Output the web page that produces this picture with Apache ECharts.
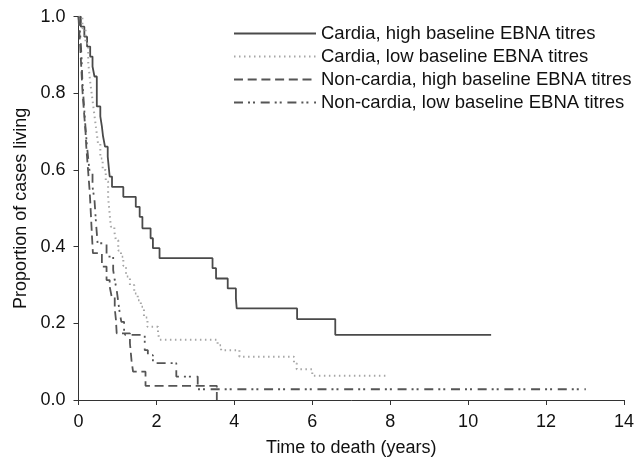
<!DOCTYPE html>
<html>
<head>
<meta charset="utf-8">
<script src="https://cdn.jsdelivr.net/npm/echarts@6/dist/echarts.min.js"></script>
<style>
html,body{margin:0;padding:0;background:#fff;}
#chart{width:637px;height:462px;}
</style>
</head>
<body>
<div id="chart"></div>
<script>
// Kaplan–Meier style survival curves: [time (years), proportion living]
var cardiaHigh = [
  [0,1],[0.06,0.974],[0.15,0.948],[0.22,0.922],[0.30,0.896],[0.36,0.870],[0.41,0.844],
  [0.47,0.766],[0.56,0.740],[0.60,0.714],[0.63,0.688],[0.68,0.661],[0.75,0.635],
  [0.80,0.583],[0.86,0.556],[1.15,0.530],[1.47,0.504],[1.57,0.478],[1.64,0.448],
  [1.85,0.422],[1.91,0.396],[2.08,0.370],[3.44,0.344],[3.53,0.317],[3.83,0.291],
  [4.04,0.265],[4.06,0.239],[5.61,0.211],[6.59,0.170],[10.59,0.170]
];
var cardiaLow = [
  [0,1],[0.10,0.97],[0.18,0.93],[0.25,0.88],[0.30,0.83],[0.35,0.79],[0.40,0.75],
  [0.45,0.71],[0.50,0.67],[0.56,0.63],[0.62,0.60],[0.70,0.57],[0.76,0.53],[0.79,0.496],
  [0.83,0.452],[0.92,0.439],[0.96,0.417],[1.02,0.39],[1.09,0.374],[1.15,0.35],
  [1.22,0.322],[1.32,0.30],[1.43,0.278],[1.52,0.26],[1.60,0.243],[1.68,0.215],
  [1.77,0.191],[2.04,0.174],[2.08,0.157],[3.57,0.143],[3.66,0.130],[4.13,0.113],
  [5.53,0.096],[5.60,0.080],[6.00,0.063],[7.91,0.063]
];
var nonCardiaHigh = [
  [0,1],[0.02,0.96],[0.04,0.93],[0.06,0.89],[0.08,0.85],[0.10,0.81],[0.12,0.78],
  [0.15,0.74],[0.18,0.70],[0.20,0.66],[0.23,0.62],[0.26,0.58],[0.29,0.54],[0.31,0.50],
  [0.33,0.46],[0.35,0.42],[0.37,0.383],[0.60,0.348],[0.72,0.313],[0.80,0.296],
  [0.85,0.270],[0.93,0.239],[0.96,0.210],[0.98,0.174],[1.32,0.148],[1.36,0.104],
  [1.40,0.074],[1.72,0.037],[3.55,0.0]
];
var nonCardiaLow = [
  [0,1],[0.03,0.97],[0.06,0.93],[0.08,0.89],[0.10,0.83],[0.14,0.77],[0.18,0.71],
  [0.22,0.66],[0.26,0.62],[0.29,0.591],[0.36,0.556],[0.41,0.522],[0.45,0.461],
  [0.49,0.409],[0.72,0.374],[0.89,0.339],[0.93,0.313],[0.98,0.287],[1.02,0.256],
  [1.06,0.226],[1.10,0.204],[1.17,0.178],[1.20,0.170],[1.70,0.130],[1.78,0.117],
  [1.91,0.096],[2.51,0.061],[3.06,0.028],[13.02,0.028]
];
var seriesNames = [
  'Cardia, high baseline EBNA titres',
  'Cardia, low baseline EBNA titres',
  'Non-cardia, high baseline EBNA titres',
  'Non-cardia, low baseline EBNA titres'
];
var xTicks = [0, 2, 4, 6, 8, 10, 12, 14];
var yTicks = [0, 0.2, 0.4, 0.6, 0.8, 1.0];

var FONT = 'Liberation Sans, Arial, Helvetica, sans-serif';
var chart = echarts.init(document.getElementById('chart'), null, {renderer: 'canvas'});

function mk(name, data, color, width, dash) {
  return {
    name: name, type: 'line', step: 'end', data: data,
    symbol: 'none', showSymbol: false, animation: false,
    lineStyle: {color: color, width: width, type: dash},
    itemStyle: {color: color}
  };
}

chart.setOption({
  animation: false,
  backgroundColor: '#ffffff',
  grid: {left: 78.5, right: 10.5, top: 16.7, bottom: 62, containLabel: false},
  legend: {
    orient: 'vertical', left: 233, top: 24, padding: 0,
    itemWidth: 82, itemHeight: 14, itemGap: 4,
    itemStyle: {opacity: 0},
    textStyle: {fontFamily: FONT, fontSize: 18.5, color: '#111', lineHeight: 18},
    data: seriesNames
  },
  xAxis: {
    type: 'value', min: xTicks[0], max: xTicks[xTicks.length - 1], interval: 2,
    name: 'Time to death (years)', nameLocation: 'middle', nameGap: 39,
    nameTextStyle: {fontFamily: FONT, fontSize: 18, color: '#111'},
    axisLine: {show: true, lineStyle: {color: '#333', width: 1}},
    axisTick: {show: true, inside: false, length: 5, lineStyle: {color: '#333'}},
    axisLabel: {fontFamily: FONT, fontSize: 18, color: '#111', margin: 13},
    splitLine: {show: false}
  },
  yAxis: {
    type: 'value', min: yTicks[0], max: yTicks[yTicks.length - 1], interval: 0.2,
    name: 'Proportion of cases living', nameLocation: 'middle', nameGap: 48,
    nameTextStyle: {fontFamily: FONT, fontSize: 18, color: '#111'},
    axisLine: {show: true, lineStyle: {color: '#333', width: 1}},
    axisTick: {show: true, inside: false, length: 5, lineStyle: {color: '#333'}},
    axisLabel: {fontFamily: FONT, fontSize: 18, color: '#111', margin: 13,
      formatter: function (v) { return v.toFixed(1); }},
    splitLine: {show: false}
  },
  series: [
    mk(seriesNames[0], cardiaHigh, '#4a4a4a', 1.8, 'solid'),
    mk(seriesNames[1], cardiaLow, '#a6a6a6', 2, [1.5, 3.5]),
    mk(seriesNames[2], nonCardiaHigh, '#555555', 1.8, [9, 4.7]),
    mk(seriesNames[3], nonCardiaLow, '#555555', 1.8, [9, 5, 2, 3, 2, 5.7])
  ]
});
</script>
</body>
</html>
